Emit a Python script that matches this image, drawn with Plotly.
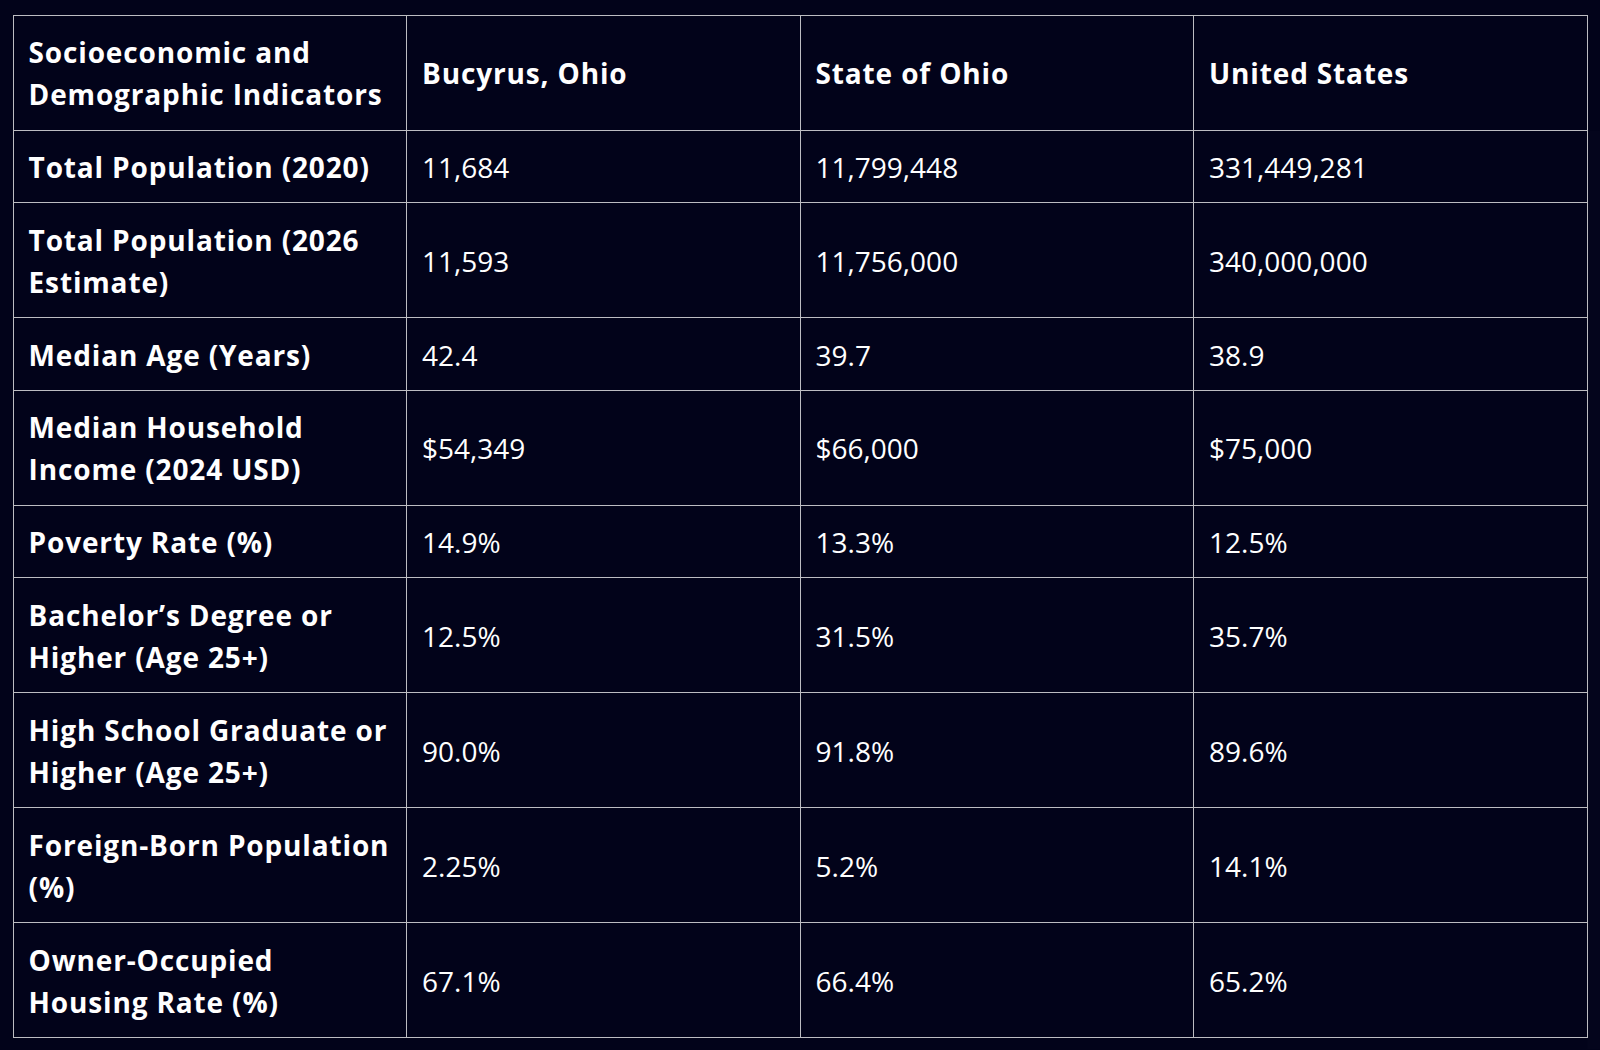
import plotly.graph_objects as go

# ---------------- data ----------------
header_labels = ["Socioeconomic and<br>Demographic Indicators", "Bucyrus, Ohio", "State of Ohio", "United States"]

indicators = [
    "Total Population (2020)",
    "Total Population (2026<br>Estimate)",
    "Median Age (Years)",
    "Median Household<br>Income (2024 USD)",
    "Poverty Rate (%)",
    "Bachelor\u2019s Degree or<br>Higher (Age 25+)",
    "High School Graduate or<br>Higher (Age 25+)",
    "Foreign-Born Population<br>(%)",
    "Owner-Occupied<br>Housing Rate (%)",
]
row_kind = ["int", "int", "num", "usd", "pct", "pct", "pct", "pct", "pct"]

bucyrus = [11684, 11593, 42.4, 54349, 14.9, 12.5, 90.0, 2.25, 67.1]
ohio = [11799448, 11756000, 39.7, 66000, 13.3, 31.5, 91.8, 5.2, 66.4]
united_states = [331449281, 340000000, 38.9, 75000, 12.5, 35.7, 89.6, 14.1, 65.2]

# ---------------- style ----------------
BG = "#02031a"
LINE = "#bdbdc2"
TXT = "#ffffff"
FONT = "Open Sans"
FS = 28            # text size
LH = 42            # line height
PAD = 15.25        # cell padding (css-like)
CP = 8             # plotly cell pad
ASC, DESC = 1.069, 0.293
ROW1 = LH + 2 * PAD
ROW2 = 2 * LH + 2 * PAD + 0.5
HDR_H = ROW2
HALF_LEAD = (LH - FS * (ASC + DESC)) / 2
BASE = PAD + HALF_LEAD + FS * ASC + 1.0   # baseline offset from row top for first line
BOLD_STYLE = "font-weight:bold;letter-spacing:0.85px"


def fmt(v, kind):
    if kind == "int":
        return f"{v:,}"
    if kind == "usd":
        return f"${v:,}"
    if kind == "pct":
        return f"{v}%"
    return f"{v}"


def strut(size):
    return f"<span style='font-size:{size:.2f}px'>\u00a0</span>"


def cell(text, bold, row_lines):
    lines = text.split("<br>")
    n = len(lines)
    if n == 1 and row_lines == 2:
        first_base = BASE + LH / 2
    else:
        first_base = BASE
    a = first_base - CP
    s_top = a / ASC
    out = []
    for i, ln in enumerate(lines):
        if bold:
            seg = (f"<span style='font-size:{FS}px'>\u00a0"
                   f"<span style='{BOLD_STYLE}'>{ln}</span></span>")
        else:
            seg = f"<span style='font-size:{FS}px'>\u00a0{ln}</span>"
        if i == 0:
            seg += strut(s_top)
        if n == 2 and i == 1:
            d = ROW2 - CP - (first_base + LH)
            seg += strut(d / DESC)
        out.append(seg)
    html = "<br>".join(out)
    if n == 1:
        html += "<br>"
    return html


# per-column base font size: controls line spacing (1.3em) of wrapped labels
col_base = [LH / 1.3, FS, FS, FS]

hdr_vals = [cell(h, True, 2) for h in header_labels]

columns = [indicators,
           [fmt(v, k) for v, k in zip(bucyrus, row_kind)],
           [fmt(v, k) for v, k in zip(ohio, row_kind)],
           [fmt(v, k) for v, k in zip(united_states, row_kind)]]
row_lines = [len(t.split("<br>")) for t in indicators]

cell_vals = []
for j, col in enumerate(columns):
    cell_vals.append([cell(t, j == 0, row_lines[i]) for i, t in enumerate(col)])

fig = go.Figure(go.Table(
    domain=dict(x=[13.3 / 1600, 1587.7 / 1600], y=[0, 1 - 15.4 / 1050]),
    columnwidth=[1, 1, 1, 1],
    header=dict(values=hdr_vals, align="left", height=HDR_H,
                fill=dict(color=BG), line=dict(color=LINE, width=1),
                font=dict(family=FONT, size=col_base, color=TXT)),
    cells=dict(values=cell_vals, align="left", height=ROW1,
               fill=dict(color=BG), line=dict(color=LINE, width=1),
               font=dict(family=FONT, size=col_base, color=TXT)),
))

fig.update_layout(width=1600, height=1050, paper_bgcolor=BG, plot_bgcolor=BG,
                  margin=dict(l=0, r=0, t=0, b=0))

page_js = ("document.body.style.margin='0';document.body.style.padding='0';"
           "document.body.style.overflow='hidden';"
           "document.body.style.background='" + BG + "';")
fig.write_html("out.html", post_script=page_js, config={"displayModeBar": False})
